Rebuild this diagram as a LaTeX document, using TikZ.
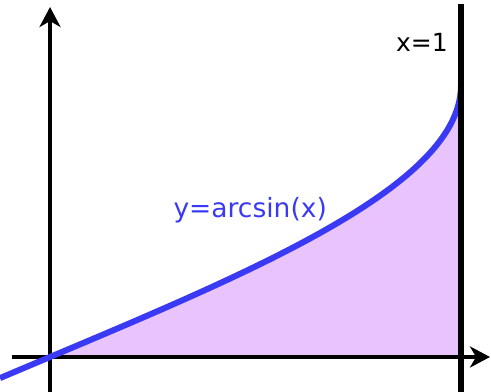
\documentclass[tikz,border=0pt]{standalone}
\usepackage{fontspec}
\setmainfont{DejaVu Sans}
\usetikzlibrary{arrows.meta}
\definecolor{curveblue}{RGB}{58,58,245}
\definecolor{areaviolet}{RGB}{233,195,251}

\begin{document}
\begin{tikzpicture}[x=411pt,y=173pt,
  axis/.style={line width=4pt,-{Stealth[length=20pt,width=21pt,inset=6pt]}},
  label/.style={inner sep=0pt,font=\fontsize{25}{30}\selectfont}]
\useasboundingbox (-0.1217,-0.2023) rectangle (1.0730,2.0636);
% shaded area under the curve
\fill[areaviolet] (0,0) -- plot[domain=0:1.5708,samples=120] ({sin(\x r)},\x) -- (1,0) -- cycle;
% axes
\coordinate (xs) at (-0.0925,0);
\coordinate (xe) at (1.0706,0);
\coordinate (ys) at (0,-0.2023);
\coordinate (ye) at (0,2.023);
\draw[axis] (xs) -- (xe);
\draw[axis] (ys) -- (ye);
% the curve
\draw[curveblue,line width=6pt] plot[domain=-0.122:1.5708,samples=150] ({sin(\x r)},\x);
% the line x=1
\coordinate (lb) at (1,-0.2023);
\coordinate (lt) at (1,2.04);
\draw[line width=6pt] (lb) -- (lt);
% labels
\node[label,text=curveblue,font=\fontsize{26.5}{32}\selectfont] (curvelbl) at (0.487,0.85) {y=arcsin(x)};
\node[label] (linelbl) at (0.905,1.82) {x=1};
\end{tikzpicture}
\end{document}
